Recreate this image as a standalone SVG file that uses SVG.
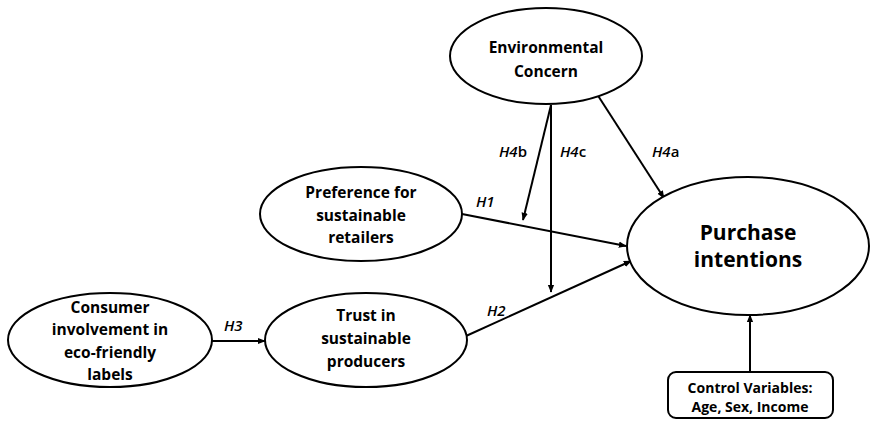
<svg xmlns="http://www.w3.org/2000/svg" width="872" height="428" viewBox="0 0 872 428">
<style>
.n{fill:#fff;stroke:#000;stroke-width:2}
.t{font-family:"Open Sans","Liberation Sans",sans-serif;font-weight:bold;font-size:15.5px;text-anchor:middle;fill:#000}
.big{font-size:21px}
.c{stroke:#000;stroke-width:2;fill:none;marker-end:url(#ah)}
.l{font-family:"Open Sans","Liberation Sans",sans-serif;font-size:15px;font-weight:600;fill:#000}
.i{font-style:italic}
</style>
<defs>
<marker id="ah" viewBox="0 0 10 10" refX="9" refY="5" markerWidth="4" markerHeight="4" orient="auto" markerUnits="strokeWidth">
<path d="M0,1 L10,5 L0,9 z" fill="#000"/>
</marker>
</defs>
<rect width="872" height="428" fill="#fff"/>
<g id="connectors">
<line class="c" x1="212" y1="341" x2="265" y2="341"/>
<line class="c" x1="462" y1="214" x2="626" y2="246"/>
<line class="c" x1="466" y1="336" x2="631" y2="261"/>
<line class="c" x1="551" y1="105" x2="523" y2="220"/>
<line class="c" x1="551" y1="105" x2="551" y2="292"/>
<line class="c" x1="595" y1="91" x2="664" y2="198"/>
<line class="c" x1="750" y1="372" x2="750" y2="315"/>
<text class="l" x="499" y="157"><tspan class="i">H4</tspan>b</text>
<text class="l" x="560" y="157"><tspan class="i">H4</tspan>c</text>
<text class="l" x="652" y="157"><tspan class="i">H4</tspan>a</text>
<text class="l i" x="476" y="207">H1</text>
<text class="l i" x="487" y="316">H2</text>
<text class="l i" x="224" y="331">H3</text>
</g>
<g id="env">
<ellipse class="n" cx="546" cy="56" rx="96" ry="48"/>
<text class="t" x="546" y="53">Environmental</text>
<text class="t" x="546" y="77">Concern</text>
</g>
<g id="pref">
<ellipse class="n" cx="361" cy="214" rx="101" ry="47"/>
<text class="t" x="361" y="198">Preference for</text>
<text class="t" x="361" y="221">sustainable</text>
<text class="t" x="361" y="243">retailers</text>
</g>
<g id="consumer">
<ellipse class="n" cx="110" cy="340" rx="102" ry="47"/>
<text class="t" x="110" y="313">Consumer</text>
<text class="t" x="110" y="335">involvement in</text>
<text class="t" x="110" y="358">eco-friendly</text>
<text class="t" x="110" y="380">labels</text>
</g>
<g id="trust">
<ellipse class="n" cx="366" cy="340" rx="101" ry="47"/>
<text class="t" x="366" y="321">Trust in</text>
<text class="t" x="366" y="344">sustainable</text>
<text class="t" x="366" y="367">producers</text>
</g>
<g id="purchase">
<ellipse class="n" cx="748" cy="246" rx="121" ry="69"/>
<text class="t big" x="748" y="240">Purchase</text>
<text class="t big" x="748" y="267">intentions</text>
</g>
<g id="control">
<rect class="n" x="668" y="372" width="165" height="46" rx="8"/>
<text class="t" x="750" y="393" style="font-size:14px">Control Variables:</text>
<text class="t" x="750" y="412" style="font-size:14px">Age, Sex, Income</text>
</g>
</svg>
